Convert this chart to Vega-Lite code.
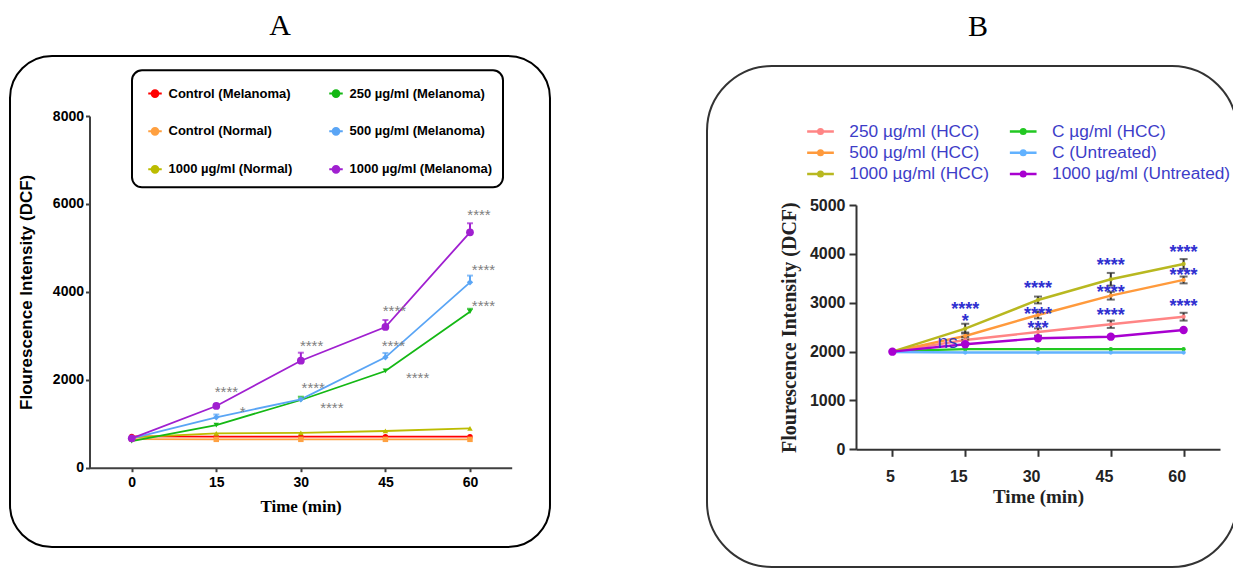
{
  "$schema": "https://vega.github.io/schema/vega-lite/v6.json",
  "padding": {"left": 9, "top": 10, "right": 0, "bottom": 0},
  "background": "white",
  "config": {"axis": {"grid": false}, "font": "Liberation Sans"},
  "datasets": {
    "frame": [{"panel": "A"}],
    "aSeries": [
      {"series": "Control (Melanoma)", "time": 0, "mean": 712},
      {"series": "Control (Melanoma)", "time": 15, "mean": 706},
      {"series": "Control (Melanoma)", "time": 30, "mean": 706},
      {"series": "Control (Melanoma)", "time": 45, "mean": 706},
      {"series": "Control (Melanoma)", "time": 60, "mean": 706},
      {"series": "Control (Normal)", "time": 0, "mean": 650},
      {"series": "Control (Normal)", "time": 15, "mean": 645},
      {"series": "Control (Normal)", "time": 30, "mean": 645},
      {"series": "Control (Normal)", "time": 45, "mean": 645},
      {"series": "Control (Normal)", "time": 60, "mean": 645},
      {"series": "1000 µg/ml (Normal)", "time": 0, "mean": 690},
      {"series": "1000 µg/ml (Normal)", "time": 15, "mean": 782},
      {"series": "1000 µg/ml (Normal)", "time": 30, "mean": 791},
      {"series": "1000 µg/ml (Normal)", "time": 45, "mean": 835},
      {"series": "1000 µg/ml (Normal)", "time": 60, "mean": 896},
      {"series": "250 µg/ml (Melanoma)", "time": 0, "mean": 607},
      {"series": "250 µg/ml (Melanoma)", "time": 15, "mean": 971},
      {"series": "250 µg/ml (Melanoma)", "time": 30, "mean": 1540, "hi": 1615},
      {"series": "250 µg/ml (Melanoma)", "time": 45, "mean": 2200},
      {"series": "250 µg/ml (Melanoma)", "time": 60, "mean": 3549, "hi": 3615},
      {"series": "500 µg/ml (Melanoma)", "time": 0, "mean": 668},
      {"series": "500 µg/ml (Melanoma)", "time": 15, "mean": 1146, "hi": 1210},
      {"series": "500 µg/ml (Melanoma)", "time": 30, "mean": 1556},
      {"series": "500 µg/ml (Melanoma)", "time": 45, "mean": 2511, "hi": 2610},
      {"series": "500 µg/ml (Melanoma)", "time": 60, "mean": 4217, "hi": 4370},
      {"series": "1000 µg/ml (Melanoma)", "time": 0, "mean": 668},
      {"series": "1000 µg/ml (Melanoma)", "time": 15, "mean": 1404},
      {"series": "1000 µg/ml (Melanoma)", "time": 30, "mean": 2434, "hi": 2616},
      {"series": "1000 µg/ml (Melanoma)", "time": 45, "mean": 3201, "hi": 3360},
      {"series": "1000 µg/ml (Melanoma)", "time": 60, "mean": 5355, "hi": 5560}
    ],
    "aAnnot": [
      {"time": 16.8, "value": 1806, "label": "****"},
      {"time": 19.7, "value": 1351, "label": "*"},
      {"time": 31.9, "value": 2852, "label": "****"},
      {"time": 32.2, "value": 1904, "label": "****"},
      {"time": 35.5, "value": 1449, "label": "****"},
      {"time": 46.6, "value": 3649, "label": "****"},
      {"time": 46.4, "value": 2852, "label": "****"},
      {"time": 50.7, "value": 2125, "label": "****"},
      {"time": 61.6, "value": 5840, "label": "****"},
      {"time": 62.4, "value": 4589, "label": "****"},
      {"time": 62.4, "value": 3770, "label": "****"}
    ],
    "bSeries": [
      {"series": "250 µg/ml (HCC)", "time": "5", "mean": 2000},
      {"series": "250 µg/ml (HCC)", "time": "15", "mean": 2237, "err": 60},
      {"series": "250 µg/ml (HCC)", "time": "30", "mean": 2401, "err": 75},
      {"series": "250 µg/ml (HCC)", "time": "45", "mean": 2559, "err": 75},
      {"series": "250 µg/ml (HCC)", "time": "60", "mean": 2714, "err": 80},
      {"series": "C µg/ml (HCC)", "time": "5", "mean": 2010},
      {"series": "C µg/ml (HCC)", "time": "15", "mean": 2050},
      {"series": "C µg/ml (HCC)", "time": "30", "mean": 2050},
      {"series": "C µg/ml (HCC)", "time": "45", "mean": 2050},
      {"series": "C µg/ml (HCC)", "time": "60", "mean": 2050},
      {"series": "500 µg/ml (HCC)", "time": "5", "mean": 2000},
      {"series": "500 µg/ml (HCC)", "time": "15", "mean": 2319, "err": 70},
      {"series": "500 µg/ml (HCC)", "time": "30", "mean": 2749, "err": 70},
      {"series": "500 µg/ml (HCC)", "time": "45", "mean": 3144, "err": 80},
      {"series": "500 µg/ml (HCC)", "time": "60", "mean": 3466, "err": 70},
      {"series": "C (Untreated)", "time": "5", "mean": 1990},
      {"series": "C (Untreated)", "time": "15", "mean": 1980},
      {"series": "C (Untreated)", "time": "30", "mean": 1980},
      {"series": "C (Untreated)", "time": "45", "mean": 1980},
      {"series": "C (Untreated)", "time": "60", "mean": 1980},
      {"series": "1000 µg/ml (HCC)", "time": "5", "mean": 2000},
      {"series": "1000 µg/ml (HCC)", "time": "15", "mean": 2469, "err": 100},
      {"series": "1000 µg/ml (HCC)", "time": "30", "mean": 3056, "err": 70},
      {"series": "1000 µg/ml (HCC)", "time": "45", "mean": 3480, "err": 130},
      {"series": "1000 µg/ml (HCC)", "time": "60", "mean": 3793, "err": 100},
      {"series": "1000 µg/ml (Untreated)", "time": "5", "mean": 1998},
      {"series": "1000 µg/ml (Untreated)", "time": "15", "mean": 2149},
      {"series": "1000 µg/ml (Untreated)", "time": "30", "mean": 2272},
      {"series": "1000 µg/ml (Untreated)", "time": "45", "mean": 2305},
      {"series": "1000 µg/ml (Untreated)", "time": "60", "mean": 2442}
    ],
    "bAnnot": [
      {"time": "15", "value": 2954, "label": "****"},
      {"time": "15", "value": 2702, "label": "*"},
      {"time": "15", "value": 2182, "label": "ns"},
      {"time": "30", "value": 3384, "label": "****"},
      {"time": "30", "value": 2851, "label": "****"},
      {"time": "30", "value": 2559, "label": "***"},
      {"time": "45", "value": 3861, "label": "****"},
      {"time": "45", "value": 3296, "label": "****"},
      {"time": "45", "value": 2831, "label": "****"},
      {"time": "60", "value": 4114, "label": "****"},
      {"time": "60", "value": 3656, "label": "****"},
      {"time": "60", "value": 3009, "label": "****"}
    ]
  },
  "spacing": 155,
  "resolve": {
    "scale": {"x": "independent", "y": "independent", "color": "independent"},
    "legend": {"color": "independent"}
  },
  "hconcat": [
    {
      "name": "panelA",
      "title": {"text": "A", "font": "Liberation Serif", "fontSize": 30, "fontWeight": "normal", "color": "black", "offset": 14, "anchor": "middle"},
      "width": 540,
      "height": 481,
      "view": {"stroke": null, "fill": null},
      "layer": [
        {
          "data": {"name": "frame"},
          "mark": {"type": "rect", "filled": false, "color": "black", "strokeWidth": 2, "cornerRadius": 42, "clip": false},
          "encoding": {
            "x": {"datum": -21.59, "type": "quantitative"},
            "x2": {"datum": 74.19},
            "y": {"datum": 9365, "type": "quantitative"},
            "y2": {"datum": -1804}
          }
        },
        {
          "data": {"name": "aSeries"},
          "mark": {"type": "line", "strokeWidth": 1.8},
          "encoding": {
            "x": {
              "field": "time", "type": "quantitative",
              "scale": {"domain": [-7.49, 67.4], "range": [79.5, 501.7], "nice": false, "zero": false},
              "axis": {
                "orient": "bottom", "offset": -79.3, "values": [0, 15, 30, 45, 60], "format": "d", "zindex": 1,
                "title": "Time (min)", "titleFont": "Liberation Serif", "titleFontSize": 17, "titleFontWeight": "bold", "titleColor": "black", "titlePadding": 9,
                "labelFont": "Liberation Sans", "labelFontSize": 14, "labelFontWeight": "bold", "labelColor": "black", "labelPadding": 4, "labelAngle": 0,
                "tickSize": 4, "tickWidth": 2, "tickColor": "#404040", "domainColor": "#404040", "domainWidth": 2, "grid": false
              }
            },
            "y": {
              "field": "mean", "type": "quantitative",
              "scale": {"domain": [0, 8000], "range": [401.7, 50], "nice": false},
              "axis": {
                "orient": "left", "offset": -79.5, "values": [0, 2000, 4000, 6000, 8000], "format": "d", "zindex": 1,
                "title": "Flourescence Intensity (DCF)", "titleFont": "Liberation Sans", "titleFontSize": 17, "titleFontWeight": "bold", "titleColor": "black", "titlePadding": 17,
                "labelFont": "Liberation Sans", "labelFontSize": 14, "labelFontWeight": "bold", "labelColor": "black", "labelPadding": 2,
                "tickSize": 4, "tickWidth": 2, "tickColor": "#404040", "domainColor": "#404040", "domainWidth": 2, "grid": false
              }
            },
            "color": {
              "field": "series", "type": "nominal",
              "scale": {
                "domain": ["Control (Melanoma)", "Control (Normal)", "1000 µg/ml (Normal)", "250 µg/ml (Melanoma)", "500 µg/ml (Melanoma)", "1000 µg/ml (Melanoma)"],
                "range": ["#ff0000", "#ffa040", "#bcbc00", "#14b814", "#5aa5f5", "#a020d0"]
              },
              "legend": {
                "title": null, "orient": "none", "legendX": 122, "legendY": 4.3, "direction": "vertical", "columns": 2,
                "columnPadding": 30, "rowPadding": 17, "padding": 10,
                "strokeColor": "black", "cornerRadius": 10, "fillColor": "white",
                "symbolType": "M-0.5625,0H0.5625M-0.28,0A0.28,0.28,0,1,1,0.28,0A0.28,0.28,0,1,1,-0.28,0Z",
                "symbolSize": 576, "symbolStrokeWidth": 2,
                "labelFont": "Liberation Sans", "labelFontSize": 13, "labelFontWeight": "bold", "labelColor": "black", "labelOffset": 0.5, "labelLimit": 200,
                "encode": {
                  "legend": {"update": {"strokeWidth": {"value": 2}}},
                  "symbols": {"update": {
                    "shape": {"value": "M-0.5625,0H0.5625M-0.28,0A0.28,0.28,0,1,1,0.28,0A0.28,0.28,0,1,1,-0.28,0Z"},
                    "size": {"value": 576},
                    "strokeWidth": {"value": 2},
                    "fill": {"scale": "panelA_color", "field": "value"},
                    "stroke": {"scale": "panelA_color", "field": "value"},
                    "opacity": {"value": 1}
                  }}
                }
              }
            }
          }
        },
        {
          "data": {"name": "aSeries"},
          "transform": [{"filter": "isValid(datum.hi)"}],
          "mark": {"type": "rule", "strokeWidth": 2},
          "encoding": {
            "x": {"field": "time", "type": "quantitative"},
            "y": {"field": "mean", "type": "quantitative"},
            "y2": {"field": "hi"},
            "color": {"field": "series", "type": "nominal"}
          }
        },
        {
          "data": {"name": "aSeries"},
          "transform": [{"filter": "isValid(datum.hi)"}],
          "mark": {"type": "tick", "orient": "horizontal", "size": 6, "thickness": 2},
          "encoding": {
            "x": {"field": "time", "type": "quantitative"},
            "y": {"field": "hi", "type": "quantitative"},
            "color": {"field": "series", "type": "nominal"}
          }
        },
        {
          "data": {"name": "aSeries"},
          "mark": {"type": "point", "filled": true, "opacity": 1},
          "encoding": {
            "x": {"field": "time", "type": "quantitative"},
            "y": {"field": "mean", "type": "quantitative"},
            "color": {"field": "series", "type": "nominal"},
            "shape": {
              "condition": [
                {"test": "datum.series === 'Control (Normal)'", "value": "square"},
                {"test": "datum.series === '250 µg/ml (Melanoma)'", "value": "triangle-down"},
                {"test": "datum.series === '500 µg/ml (Melanoma)'", "value": "diamond"},
                {"test": "datum.series === '1000 µg/ml (Normal)'", "value": "triangle-up"}
              ],
              "value": "circle"
            },
            "size": {
              "condition": [
                {"test": "datum.series === '1000 µg/ml (Melanoma)'", "value": 60},
                {"test": "datum.series === '500 µg/ml (Melanoma)'", "value": 40}
              ],
              "value": 30
            }
          }
        },
        {
          "data": {"name": "aAnnot"},
          "mark": {"type": "text", "font": "Liberation Sans", "fontSize": 15, "color": "#808080", "align": "center", "baseline": "middle", "dy": 4},
          "encoding": {
            "x": {"field": "time", "type": "quantitative"},
            "y": {"field": "value", "type": "quantitative"},
            "text": {"field": "label"}
          }
        }
      ]
    },
    {
      "name": "panelB",
      "title": {"text": "B", "font": "Liberation Serif", "fontSize": 30, "fontWeight": "normal", "color": "black", "offset": 24, "anchor": "middle", "dx": 6},
      "width": 530,
      "height": 501,
      "view": {"stroke": "#333333", "strokeWidth": 2, "cornerRadius": 65, "fill": "white"},
      "layer": [
        {
          "data": {"name": "bSeries"},
          "mark": {"type": "line", "strokeWidth": 2.4},
          "encoding": {
            "x": {
              "field": "time", "type": "ordinal",
              "scale": {"type": "point", "domain": ["5", "15", "30", "45", "60"], "range": [149, 513], "padding": 0.5},
              "axis": {
                "orient": "bottom", "offset": -117.7,
                "title": "Time (min)", "titleFont": "Liberation Serif", "titleFontSize": 19, "titleFontWeight": "bold", "titleColor": "#222222", "titlePadding": 3,
                "labelFont": "Liberation Sans", "labelFontSize": 16, "labelFontWeight": "bold", "labelColor": "#222222", "labelPadding": 12, "labelAngle": 0,
                "labelAlign": "right", "labelOffset": 2,
                "tickSize": 7, "tickWidth": 2, "tickColor": "#333333", "domainColor": "#333333", "domainWidth": 2, "grid": false
              }
            },
            "y": {
              "field": "mean", "type": "quantitative",
              "scale": {"domain": [0, 5000], "range": [383.3, 139], "nice": false},
              "axis": {
                "orient": "left", "offset": -149, "values": [0, 1000, 2000, 3000, 4000, 5000], "format": "d",
                "title": "Flourescence Intensity (DCF)", "titleFont": "Liberation Serif", "titleFontSize": 20, "titleFontWeight": "bold", "titleColor": "#222222", "titlePadding": 10,
                "labelFont": "Liberation Sans", "labelFontSize": 16, "labelFontWeight": "bold", "labelColor": "#222222", "labelPadding": 4,
                "tickSize": 7, "tickWidth": 2, "tickColor": "#333333", "domainColor": "#333333", "domainWidth": 2, "grid": false
              }
            },
            "color": {
              "field": "series", "type": "nominal",
              "scale": {
                "domain": ["250 µg/ml (HCC)", "500 µg/ml (HCC)", "1000 µg/ml (HCC)", "C µg/ml (HCC)", "C (Untreated)", "1000 µg/ml (Untreated)"],
                "range": ["#ff8585", "#ff9a3c", "#b8b820", "#22c822", "#62b2ff", "#a800d0"]
              },
              "legend": {
                "title": null, "orient": "none", "legendX": 103, "legendY": 55, "direction": "vertical", "columns": 2,
                "columnPadding": 15.7, "rowPadding": 2.2, "padding": 0,
                "symbolType": "M-1.483,0H1.483M-0.25,0A0.25,0.25,0,1,1,0.25,0A0.25,0.25,0,1,1,-0.25,0Z",
                "symbolSize": 324, "symbolStrokeWidth": 2.5,
                "labelFont": "Liberation Sans", "labelFontSize": 17.3, "labelFontWeight": "normal", "labelColor": "#3d3dc8", "labelOffset": 18.35, "labelLimit": 250,
                "encode": {"symbols": {"update": {
                  "shape": {"value": "M-1.483,0H1.483M-0.25,0A0.25,0.25,0,1,1,0.25,0A0.25,0.25,0,1,1,-0.25,0Z"},
                  "size": {"value": 324},
                  "strokeWidth": {"value": 2.5},
                  "fill": {"scale": "panelB_color", "field": "value"},
                  "stroke": {"scale": "panelB_color", "field": "value"},
                  "opacity": {"value": 1}
                }}}
              }
            }
          }
        },
        {
          "data": {"name": "bSeries"},
          "transform": [{"filter": "isValid(datum.err)"}, {"calculate": "datum.mean - datum.err", "as": "lo"}, {"calculate": "datum.mean + datum.err", "as": "hi"}],
          "mark": {"type": "rule", "strokeWidth": 2, "color": "#333333"},
          "encoding": {
            "x": {"field": "time", "type": "ordinal"},
            "y": {"field": "lo", "type": "quantitative"},
            "y2": {"field": "hi"}
          }
        },
        {
          "data": {"name": "bSeries"},
          "transform": [{"filter": "isValid(datum.err)"}, {"calculate": "datum.mean + datum.err", "as": "hi"}],
          "mark": {"type": "tick", "orient": "horizontal", "size": 8, "thickness": 2, "color": "#333333"},
          "encoding": {
            "x": {"field": "time", "type": "ordinal"},
            "y": {"field": "hi", "type": "quantitative"}
          }
        },
        {
          "data": {"name": "bSeries"},
          "transform": [{"filter": "isValid(datum.err)"}, {"calculate": "datum.mean - datum.err", "as": "lo"}],
          "mark": {"type": "tick", "orient": "horizontal", "size": 8, "thickness": 2, "color": "#333333"},
          "encoding": {
            "x": {"field": "time", "type": "ordinal"},
            "y": {"field": "lo", "type": "quantitative"}
          }
        },
        {
          "data": {"name": "bSeries"},
          "mark": {"type": "point", "filled": true, "opacity": 1},
          "encoding": {
            "x": {"field": "time", "type": "ordinal"},
            "y": {"field": "mean", "type": "quantitative"},
            "color": {"field": "series", "type": "nominal"},
            "size": {
              "condition": {"test": "datum.series === '1000 µg/ml (Untreated)'", "value": 70},
              "value": 18
            }
          }
        },
        {
          "data": {"name": "bAnnot"},
          "transform": [{"filter": "datum.label != 'ns'"}],
          "mark": {"type": "text", "font": "Liberation Sans", "fontSize": 18, "fontWeight": "bold", "color": "#3030d0", "align": "center", "baseline": "middle", "dy": 5},
          "encoding": {
            "x": {"field": "time", "type": "ordinal"},
            "y": {"field": "value", "type": "quantitative"},
            "text": {"field": "label"}
          }
        },
        {
          "data": {"name": "bAnnot"},
          "transform": [{"filter": "datum.label == 'ns'"}],
          "mark": {"type": "text", "font": "Liberation Sans", "fontSize": 19, "color": "#3535c0", "align": "center", "baseline": "middle", "dx": -17.6, "dy": -1},
          "encoding": {
            "x": {"field": "time", "type": "ordinal"},
            "y": {"field": "value", "type": "quantitative"},
            "text": {"field": "label"}
          }
        }
      ]
    }
  ]
}
